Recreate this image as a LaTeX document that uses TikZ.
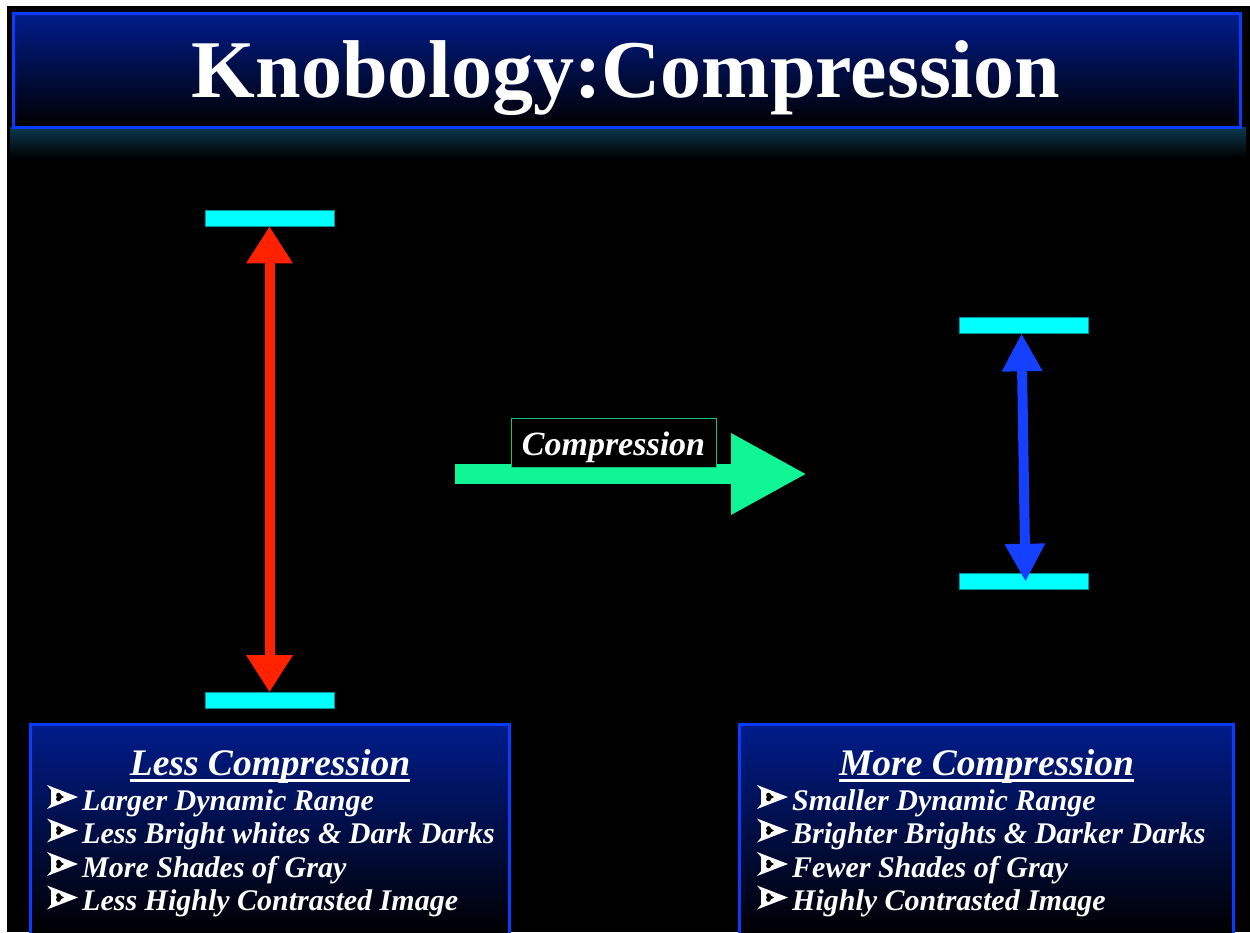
\documentclass[tikz,border=0pt]{standalone}
\usepackage{fontspec}
\setmainfont{Liberation Serif}
\usetikzlibrary{arrows.meta}
\definecolor{barcyan}{RGB}{0,255,255}
\definecolor{baredge}{RGB}{0,150,150}
\definecolor{redarr}{RGB}{255,34,0}
\definecolor{greenarr}{RGB}{16,245,150}
\definecolor{bluearr}{RGB}{21,64,255}
\definecolor{boxedge}{RGB}{10,60,255}
\definecolor{boxtop}{RGB}{0,28,140}
\definecolor{glow}{RGB}{12,58,80}
\tikzset{
  rangebar/.style={fill=barcyan,draw=baredge,line width=0.6pt,minimum width=129pt,minimum height=16pt,inner sep=0pt},
  infobox/.style={draw=boxedge,line width=3pt},
  headtext/.style={text=white,font=\fontsize{37.5}{40}\selectfont\bfseries\itshape,inner sep=0pt,anchor=base},
  itemtext/.style={text=white,font=\fontsize{30}{32}\selectfont\bfseries\itshape,inner sep=0pt,anchor=base west},
  ulrule/.style={white,line width=2.2pt},
  bulletmark/.pic={
    \fill[white] (0,-12) -- (31,0) -- (0,12) -- (10,0) -- cycle;
    \fill[white] (4,-7) -- (20,-3) -- (20,3) -- (4,7) -- cycle;
    \fill[black] (11.5,-1.9) circle (2.4);
    \fill[black] (11.5,1.9) circle (2.4);
    \fill[black] (10.4,-4) -- (10.4,4) -- (17,0) -- cycle;
  }
}
\begin{document}
\begin{tikzpicture}[x=1pt,y=-1pt]
\useasboundingbox (0,0) rectangle (1250,932);
\fill[white] (0,0) rectangle (1250,932);
\fill[black] (7,6) rectangle (1250,932);
% glow below title
\shade[top color=glow,bottom color=black] (10,127) rectangle (1246,158);
% title box
\shade[top color=boxtop,bottom color=black] (13,13) rectangle (1240,127);
\draw[infobox] (13,13) rectangle (1240,127);
\node[text=white,font=\fontsize{82}{82}\selectfont\bfseries,inner sep=0pt,anchor=base] (title) at (626,97) {Knobology:Compression};

% left range
\node[rangebar] (lt) at (269.5,218) {};
\node[rangebar] (lb) at (269.5,700.5) {};
\draw[redarr,line width=10pt,{Triangle[width=44pt,length=37pt]}-{Triangle[width=44pt,length=37pt]}] (lt.south) -- (lb.north);

% right range
\node[rangebar] (rt) at (1023.5,325) {};
\node[rangebar] (rb) at (1023.5,581) {};
\draw[bluearr,line width=10pt,{Triangle[width=38pt,length=38pt]}-{Triangle[width=38pt,length=38pt]}] ([xshift=-2pt]rt.south) -- ([xshift=2pt,yshift=-9pt]rb.north);

% compression arrow
\coordinate (gs) at (455,474);
\coordinate (ge) at (807,474);
\draw[greenarr,line width=20pt,-{Triangle[width=76pt,length=76pt]}] (gs) -- (ge);
\node[fill=black,draw=greenarr!80!black,line width=0.8pt,minimum width=205pt,minimum height=49pt,inner sep=0pt] (clabel) at (613.5,442.5) {};
\node[text=white,font=\fontsize{34}{36}\selectfont\bfseries\itshape,inner sep=0pt,anchor=base] (ctext) at (613.5,455) {Compression};

% left info box
\shade[top color=boxtop,bottom color=black] (30,724) rectangle (509,935);
\draw[infobox] (30,724) rectangle (509,940);
\node[headtext] (lh) at (270,775) {Less Compression};
\draw[ulrule] ([yshift=-5.5pt]lh.base west) -- ([yshift=-5.5pt]lh.base east);
\pic at (47,797) {bulletmark};
\node[itemtext] (l1) at (82,810) {Larger Dynamic Range};
\pic at (47,830.5) {bulletmark};
\node[itemtext] (l2) at (82,843.5) {Less Bright whites \& Dark Darks};
\pic at (47,864) {bulletmark};
\node[itemtext] (l3) at (82,877) {More Shades of Gray};
\pic at (47,897.5) {bulletmark};
\node[itemtext] (l4) at (82,910.5) {Less Highly Contrasted Image};

% right info box
\shade[top color=boxtop,bottom color=black] (739,724) rectangle (1233,935);
\draw[infobox] (739,724) rectangle (1233,940);
\node[headtext] (rh) at (986.5,775) {More Compression};
\draw[ulrule] ([yshift=-5.5pt]rh.base west) -- ([yshift=-5.5pt]rh.base east);
\pic at (757,797) {bulletmark};
\node[itemtext] (r1) at (792,810) {Smaller Dynamic Range};
\pic at (757,830.5) {bulletmark};
\node[itemtext] (r2) at (792,843.5) {Brighter Brights \& Darker Darks};
\pic at (757,864) {bulletmark};
\node[itemtext] (r3) at (792,877) {Fewer Shades of Gray};
\pic at (757,897.5) {bulletmark};
\node[itemtext] (r4) at (792,910.5) {Highly Contrasted Image};
\end{tikzpicture}
\end{document}
